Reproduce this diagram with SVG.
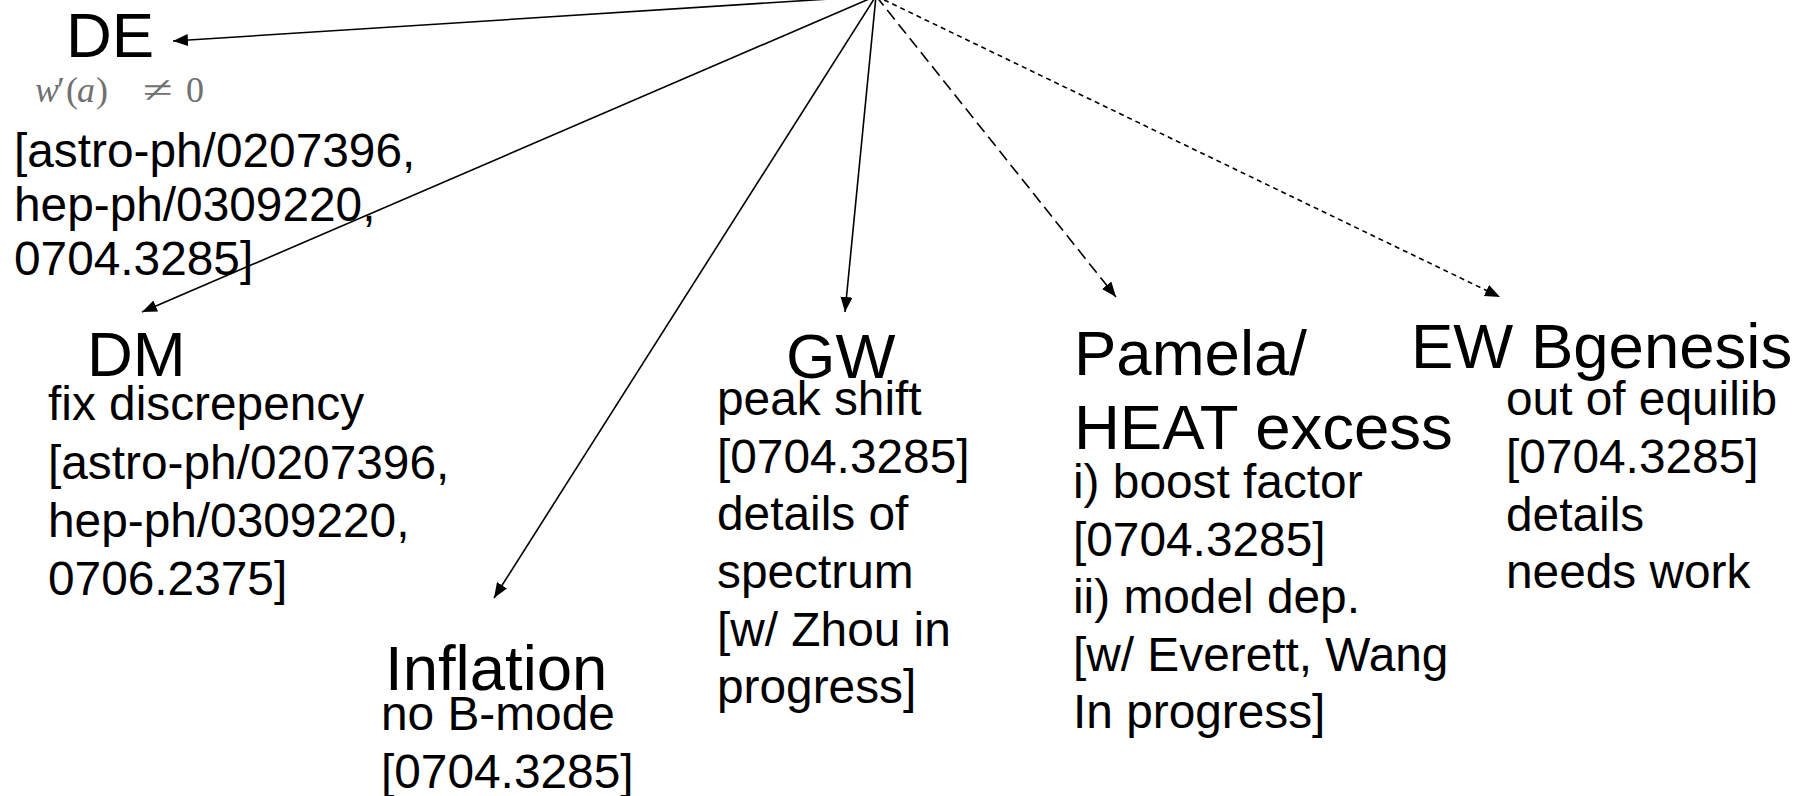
<svg xmlns="http://www.w3.org/2000/svg" width="1811" height="796" viewBox="0 0 1811 796">
<style>
.t{font-family:"Liberation Sans",Arial,sans-serif;font-size:63.5px;fill:#000}
.b{font-family:"Liberation Sans",Arial,sans-serif;font-size:47.8px;fill:#000}
.m{font-family:"Liberation Serif","Times New Roman",serif;font-size:36px;fill:#707070}
.i{font-style:italic}
.c{fill:none;stroke:#000;stroke-width:1.6}
.d1{stroke-dasharray:12 6}
.d2{stroke-dasharray:5 4}
</style>
<defs>
<marker id="ah" markerUnits="userSpaceOnUse" markerWidth="16" markerHeight="12" refX="15" refY="6" orient="auto">
<path d="M0,0 L15,6 L0,12 z" fill="#000"/>
</marker>
</defs>
<rect width="1811" height="796" fill="#fff"/>
<g id="connectors">
<line class="c" x1="876" y1="-4" x2="173" y2="41" marker-end="url(#ah)"/>
<line class="c" x1="876" y1="-4" x2="142" y2="312" marker-end="url(#ah)"/>
<line class="c" x1="876" y1="-4" x2="494" y2="598" marker-end="url(#ah)"/>
<line class="c" x1="876" y1="-4" x2="845" y2="312" marker-end="url(#ah)"/>
<line class="c d1" x1="876" y1="-4" x2="1116" y2="297" marker-end="url(#ah)"/>
<line class="c d2" x1="876" y1="-4" x2="1500" y2="297" marker-end="url(#ah)"/>
</g>
<g id="node-de">
<text class="t" x="66" y="57">DE</text>
<text class="m" y="102"><tspan class="i" x="35">w</tspan><tspan x="57">′</tspan><tspan x="66">(</tspan><tspan class="i" x="77">a</tspan><tspan x="96">)</tspan><tspan x="186">0</tspan></text>
<text class="m" x="143" y="102" textLength="30" lengthAdjust="spacingAndGlyphs">≠</text>
<text class="b" x="14" y="167">[astro-ph/0207396,</text>
<text class="b" x="14" y="221">hep-ph/0309220,</text>
<text class="b" x="14" y="275">0704.3285]</text>
</g>
<g id="node-dm">
<text class="t" x="87" y="376">DM</text>
<text class="b" x="48" y="420">fix discrepency</text>
<text class="b" x="48" y="479">[astro-ph/0207396,</text>
<text class="b" x="48" y="537">hep-ph/0309220,</text>
<text class="b" x="48" y="595">0706.2375]</text>
</g>
<g id="node-inflation">
<text class="t" x="385" y="690">Inflation</text>
<text class="b" x="381" y="730">no B-mode</text>
<text class="b" x="381" y="788">[0704.3285]</text>
</g>
<g id="node-gw">
<text class="t" x="786" y="378">GW</text>
<text class="b" x="717" y="415">peak shift</text>
<text class="b" x="717" y="473">[0704.3285]</text>
<text class="b" x="717" y="530">details of</text>
<text class="b" x="717" y="588">spectrum</text>
<text class="b" x="717" y="646">[w/ Zhou in</text>
<text class="b" x="717" y="703">progress]</text>
</g>
<g id="node-pamela">
<text class="t" x="1074" y="375">Pamela/</text>
<text class="t" x="1074" y="449">HEAT excess</text>
<text class="b" x="1073" y="498">i) boost factor</text>
<text class="b" x="1073" y="556">[0704.3285]</text>
<text class="b" x="1073" y="613">ii) model dep.</text>
<text class="b" x="1073" y="671">[w/ Everett, Wang</text>
<text class="b" x="1073" y="728">In progress]</text>
</g>
<g id="node-ew">
<text class="t" x="1411" y="368">EW Bgenesis</text>
<text class="b" x="1506" y="415">out of equilib</text>
<text class="b" x="1506" y="473">[0704.3285]</text>
<text class="b" x="1506" y="531">details</text>
<text class="b" x="1506" y="588">needs work</text>
</g>
</svg>
